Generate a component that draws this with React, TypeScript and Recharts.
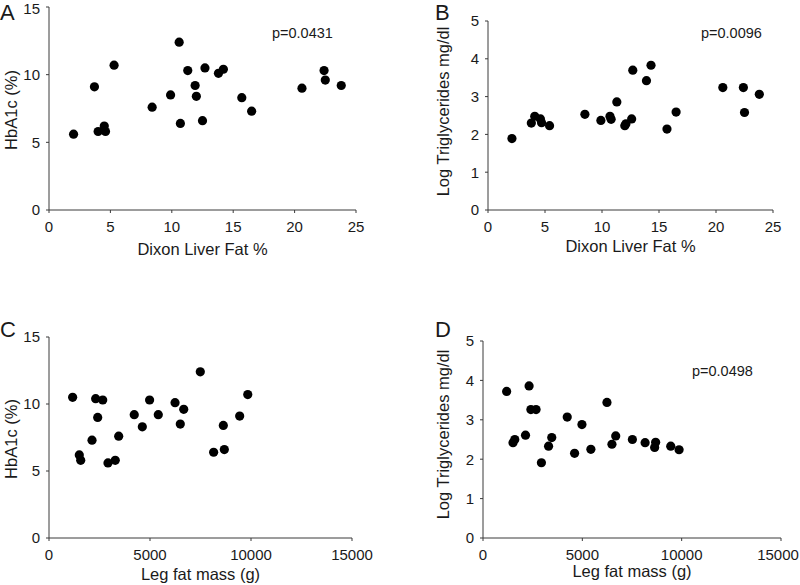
import { ScatterChart, Scatter, XAxis, YAxis } from 'recharts'

// shared subjects: liver fat / leg fat (x) vs HbA1c / log TG (y)
const liverFatA = [2.0, 3.7, 4.0, 4.5, 4.6, 5.3, 8.4, 9.9, 10.6, 10.7, 11.3, 11.9, 12.0, 12.5, 12.7, 13.8, 14.2, 15.7, 16.5, 20.6, 22.4, 22.5, 23.8]
const hba1cA = [5.6, 9.1, 5.8, 6.2, 5.8, 10.7, 7.6, 8.5, 12.4, 6.4, 10.3, 9.2, 8.4, 6.6, 10.5, 10.1, 10.4, 8.3, 7.3, 9.0, 10.3, 9.6, 9.2]

const liverFatB = [2.1, 3.8, 4.1, 4.6, 4.7, 5.4, 8.5, 9.9, 10.7, 10.8, 11.3, 12.0, 12.1, 12.6, 12.7, 13.9, 14.3, 15.7, 16.5, 20.6, 22.4, 22.5, 23.8]
const logTgB = [1.89, 2.3, 2.48, 2.41, 2.31, 2.23, 2.53, 2.37, 2.48, 2.4, 2.86, 2.23, 2.28, 2.41, 3.7, 3.42, 3.83, 2.14, 2.59, 3.24, 3.24, 2.58, 3.06]

const legFatC = [1170, 1500, 1570, 2130, 2310, 2410, 2660, 2920, 3280, 3450, 4220, 4620, 4980, 5410, 6240, 6500, 6670, 7490, 8150, 8630, 8680, 9440, 9840]
const hba1cC = [10.5, 6.2, 5.8, 7.3, 10.4, 9.0, 10.3, 5.6, 5.8, 7.6, 9.2, 8.3, 10.3, 9.2, 10.1, 8.5, 9.6, 12.4, 6.4, 8.4, 6.6, 9.1, 10.7]

const legFatD = [1190, 1510, 1600, 2140, 2320, 2410, 2670, 2940, 3300, 3460, 4240, 4610, 4980, 5430, 6240, 6490, 6680, 7520, 8160, 8640, 8690, 9450, 9870]
const logTgD = [3.72, 2.42, 2.5, 2.61, 3.86, 3.26, 3.26, 1.91, 2.33, 2.55, 3.07, 2.15, 2.88, 2.25, 3.44, 2.38, 2.59, 2.5, 2.42, 2.3, 2.43, 2.33, 2.24]

const liverTicks = [0, 5, 10, 15, 20, 25]
const legTicks = [0, 5000, 10000, 15000]
const hbaTicks = [0, 5, 10, 15]
const tgTicks = [0, 1, 2, 3, 4, 5]

const FONT = 'Arial, "Liberation Sans", sans-serif'
const AXIS = '#3a3a3a'
const TEXT = '#1a1a1a'

const zip = (xs: number[], ys: number[]) => xs.map((x, i) => ({ x, y: ys[i] }))

const Dot = (p: any) => <circle cx={p.cx} cy={p.cy} r={4.6} fill="#000" />

type PanelProps = {
  left: number
  top: number
  width: number
  height: number
  margin: { top: number; right: number; bottom: number; left: number }
  yWidth: number
  xHeight: number
  data: { x: number; y: number }[]
  xTicks: number[]
  yTicks: number[]
  xLabel: string
  yLabel: string
  xLabelOffset: number
  yLabelX: number
  yLabelShift: number
}

const Panel = (p: PanelProps) => {
  const last = p.xTicks[p.xTicks.length - 1]
  // keep the last x tick inside the picture
  const xTick = (t: any) => {
    const w = String(t.payload.value).length * 8.4
    const maxX = p.width - w / 2 - 1
    const x = Math.min(t.x, maxX)
    return (
      <text x={x} y={t.y} dy="0.71em" textAnchor="middle" fontSize={15} fill={TEXT} fontFamily={FONT}>
        {t.payload.value}
      </text>
    )
  }
  const yLabel = (l: any) => {
    const vb = l.viewBox
    const cx = p.yLabelX
    const cy = vb.y + vb.height / 2 + p.yLabelShift
    return (
      <text x={cx} y={cy} transform={`rotate(-90, ${cx}, ${cy})`} textAnchor="middle" dy="0.355em" fontSize={16.5} fill={TEXT} fontFamily={FONT}>
        {p.yLabel}
      </text>
    )
  }
  return (
    <div style={{ position: 'absolute', left: p.left, top: p.top }}>
      <ScatterChart width={p.width} height={p.height} margin={p.margin}>
        <XAxis
          type="number"
          dataKey="x"
          domain={[p.xTicks[0], last]}
          ticks={p.xTicks}
          height={p.xHeight}
          tickSize={3}
          tickMargin={8}
          stroke={AXIS}
          tick={xTick}
          label={{ value: p.xLabel, position: 'insideBottom', offset: p.xLabelOffset, fontSize: 16.5, fill: TEXT, fontFamily: FONT }}
        />
        <YAxis
          type="number"
          dataKey="y"
          domain={[p.yTicks[0], p.yTicks[p.yTicks.length - 1]]}
          ticks={p.yTicks}
          width={p.yWidth}
          tickSize={3}
          tickMargin={6}
          stroke={AXIS}
          tick={{ fontSize: 15, fill: TEXT, fontFamily: FONT }}
          label={yLabel}
        />
        <Scatter data={p.data} shape={Dot} isAnimationActive={false} />
      </ScatterChart>
    </div>
  )
}

const tag = (s: string, left: number, top: number) => (
  <div style={{ position: 'absolute', left, top, fontFamily: FONT, fontSize: 22, color: TEXT, lineHeight: 1 }}>{s}</div>
)

const pval = (s: string, left: number, top: number) => (
  <div style={{ position: 'absolute', left, top, fontFamily: FONT, fontSize: 14.5, color: TEXT, lineHeight: 1 }}>{s}</div>
)

export default function App() {
  return (
    <div style={{ position: 'absolute', left: 0, top: 0, width: 800, height: 585, background: '#fff', overflow: 'hidden' }}>
      <Panel
        left={0} top={0} width={400} height={290}
        margin={{ top: 7, right: 44, bottom: 20, left: 0 }}
        yWidth={49} xHeight={60}
        data={zip(liverFatA, hba1cA)} xTicks={liverTicks} yTicks={hbaTicks}
        xLabel="Dixon Liver Fat %" yLabel="HbA1c (%)"
        xLabelOffset={15} yLabelX={11} yLabelShift={1.5}
      />
      <Panel
        left={400} top={0} width={400} height={290}
        margin={{ top: 21, right: 27, bottom: 20, left: 0 }}
        yWidth={88} xHeight={60}
        data={zip(liverFatB, logTgB)} xTicks={liverTicks} yTicks={tgTicks}
        xLabel="Dixon Liver Fat %" yLabel="Log Triglycerides mg/dl"
        xLabelOffset={18} yLabelX={43} yLabelShift={-4}
      />
      <Panel
        left={0} top={290} width={400} height={295}
        margin={{ top: 47, right: 48, bottom: 2, left: 0 }}
        yWidth={49} xHeight={45}
        data={zip(legFatC, hba1cC)} xTicks={legTicks} yTicks={hbaTicks}
        xLabel="Leg fat mass (g)" yLabel="HbA1c (%)"
        xLabelOffset={3} yLabelX={11} yLabelShift={1.5}
      />
      <Panel
        left={400} top={290} width={400} height={295}
        margin={{ top: 51, right: 19, bottom: 2, left: 0 }}
        yWidth={83} xHeight={45}
        data={zip(legFatD, logTgD)} xTicks={legTicks} yTicks={tgTicks}
        xLabel="Leg fat mass (g)" yLabel="Log Triglycerides mg/dl"
        xLabelOffset={6} yLabelX={43} yLabelShift={-5}
      />
      {tag('A', 0, 2)}
      {tag('B', 435, 2)}
      {tag('C', 0, 319)}
      {tag('D', 435, 319)}
      {pval('p=0.0431', 272, 26)}
      {pval('p=0.0096', 701, 26)}
      {pval('p=0.0498', 692, 364)}
    </div>
  )
}
